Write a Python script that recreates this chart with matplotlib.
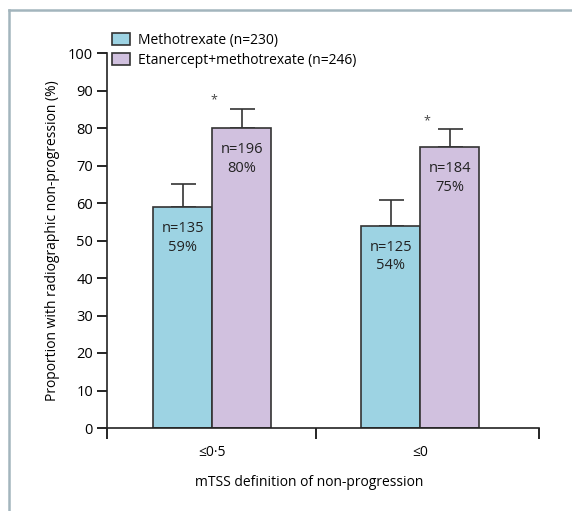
import matplotlib.pyplot as plt
from matplotlib.lines import Line2D

plt.rcParams['font.family'] = ['Open Sans', 'DejaVu Sans']

# data
categories = ['≤0·5', '≤0']
series_names = ['Methotrexate (n=230)', 'Etanercept+methotrexate (n=246)']
mtx = [59, 54]
etn_mtx = [80, 75]
mtx_err = [6.1, 6.7]
etn_err = [5.2, 4.8]
mtx_n = ['n=135', 'n=125']
etn_n = ['n=196', 'n=184']

cyan = '#9dd3e3'
purple = '#d1c1df'
edge = '#333333'

fig = plt.figure(figsize=(5.72, 5.11), dpi=100)
ax = fig.add_axes([107 / 572, 1 - 428 / 511, 432 / 572, 375 / 511])

x = [0, 1]
w = 0.284
xl = [xi - w / 2 for xi in x]
xr = [xi + w / 2 for xi in x]

ax.bar(xl, mtx, w, color=cyan, edgecolor=edge, linewidth=1.2, label=series_names[0], zorder=2)
ax.bar(xr, etn_mtx, w, color=purple, edgecolor=edge, linewidth=1.2, label=series_names[1], zorder=2)
ax.errorbar(xl, mtx, yerr=[[0, 0], mtx_err], fmt='none', ecolor=edge, elinewidth=1.2,
            capsize=9, capthick=1.2, zorder=1)
ax.errorbar(xr, etn_mtx, yerr=[[0, 0], etn_err], fmt='none', ecolor=edge, elinewidth=1.2,
            capsize=9, capthick=1.2, zorder=1)

for i in range(2):
    ax.text(xl[i], mtx[i] - 8.3, mtx_n[i] + '\n' + f'{mtx[i]}%', ha='center', va='center',
            fontsize=10.5, color='#222222', linespacing=1.3)
    ax.text(xr[i], etn_mtx[i] - 8.3, etn_n[i] + '\n' + f'{etn_mtx[i]}%', ha='center', va='center',
            fontsize=10.5, color='#222222', linespacing=1.3)
    ax.text(x[i] + 0.02 * i + 0.01, etn_mtx[i] + etn_err[i] + 2.2, '*', ha='center', va='center',
            fontsize=9, color='#444444')

ax.set_ylim(0, 100)
ax.set_xlim(-0.505, 1.57)
ax.set_yticks(range(0, 101, 10))
ax.set_xticks([-0.505, 0.5, 1.57])
ax.set_xticklabels([])
ax.set_xticks(x, minor=True)
ax.set_xticklabels(categories, minor=True)
ax.tick_params(axis='x', which='major', length=8, width=1.2, direction='out')
ax.tick_params(axis='x', which='minor', length=0, pad=12, labelsize=10)
ax.tick_params(axis='y', length=7, width=1.2, direction='out', labelsize=10.5, pad=3)
for s in ['top', 'right']:
    ax.spines[s].set_visible(False)
for s in ['left', 'bottom']:
    ax.spines[s].set_linewidth(1.2)
    ax.spines[s].set_color('#222222')

ax.set_ylabel('Proportion with radiographic non-progression (%)', fontsize=10, labelpad=6)
ax.set_xlabel('mTSS definition of non-progression', fontsize=10)
ax.xaxis.set_label_coords(0.468, -0.125)

ax.legend(loc='upper left', bbox_to_anchor=(112 / 572, 1 - 33 / 511), bbox_transform=fig.transFigure,
          frameon=False, fontsize=10, handlelength=1.3, handleheight=0.9, handletextpad=0.6,
          labelspacing=0.35, borderpad=0, borderaxespad=0)

# outer frame (top and left only)
fig.add_artist(Line2D([8.5 / 572, 8.5 / 572], [0, 1 - 10 / 511], color='#a3b5bd', linewidth=1.8,
                      transform=fig.transFigure))
fig.add_artist(Line2D([8.5 / 572, 1], [1 - 10 / 511, 1 - 10 / 511], color='#a3b5bd', linewidth=1.8,
                      transform=fig.transFigure))

fig.savefig('out.png', dpi=100)
